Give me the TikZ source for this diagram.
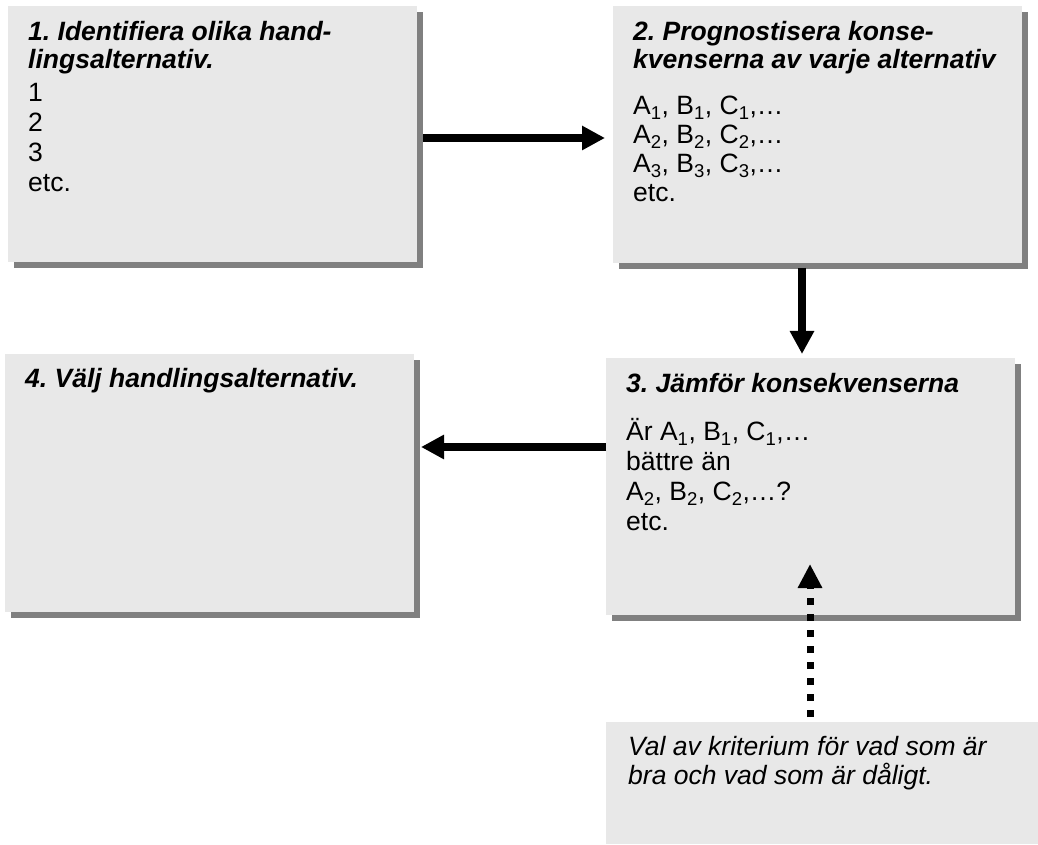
\documentclass[tikz,border=0pt]{standalone}
\usepackage{fontspec}
\setmainfont{Liberation Sans}
\usepackage{xcolor}
\usepackage{tikz}
\usetikzlibrary{arrows.meta,shadows,calc}

\definecolor{panelgray}{RGB}{232,232,232}
\definecolor{shadowgray}{RGB}{128,128,128}

\newcommand{\textlines}[1]{\begin{tabular}[t]{@{}l@{}}#1\end{tabular}}

\tikzset{
  panel/.style={fill=panelgray, inner sep=0pt, outer sep=0pt, anchor=north west,
    minimum width=409, minimum height=257},
  shadowed/.style={drop shadow={shadow xshift=6pt, shadow yshift=-6pt,
    fill=shadowgray, opacity=1}},
  body/.style={anchor=base west, inner sep=0pt, font=\fontsize{26.5}{30}\selectfont},
  head/.style={anchor=base west, inner sep=0pt,
    font=\fontsize{26.5}{27}\selectfont\bfseries\itshape},
  flow/.style={-{Triangle[length=23pt,width=23pt]}, line width=8pt},
  hint/.style={-{Triangle[length=24pt,width=23pt]}, line width=7pt,
    dash pattern=on 7pt off 9pt}
}

\begin{document}
\frenchspacing
\begin{tikzpicture}[x=1pt,y=1pt]
    \useasboundingbox (0,0) rectangle (1038,844);

    % Boxes
    \node[panel, shadowed, minimum height=256] (box1) at (8,838) {};
    \node[panel, shadowed] (box2) at (613,838) {};
    \node[panel, shadowed] (box3) at (606,486) {};
    \node[panel, shadowed, minimum height=258] (box4) at (5,490) {};
    \node[panel, minimum width=432, minimum height=122] (box5) at (606,122) {};

    % Texts
    \node[head] (head1) at ([shift={(20,-35)}]box1.north west)
        {\textlines{1. Identifiera olika hand-\\lingsalternativ.}};
    \node[body] (list1) at ([shift={(20,-96)}]box1.north west)
        {\textlines{1\\2\\3\\etc.}};

    \node[head] (head2) at ([shift={(20,-35)}]box2.north west)
        {\textlines{2. Prognostisera konse-\\kvenserna av varje alternativ}};
    \node[body, font=\fontsize{26.5}{29}\selectfont] (list2) at ([shift={(20,-109)}]box2.north west)
        {\textlines{A\textsubscript{1}, B\textsubscript{1}, C\textsubscript{1},…\\
          A\textsubscript{2}, B\textsubscript{2}, C\textsubscript{2},…\\
          A\textsubscript{3}, B\textsubscript{3}, C\textsubscript{3},…\\etc.}};

    \node[head] (head3) at ([shift={(20,-35)}]box3.north west)
        {3. Jämför konsekvenserna};
    \node[body] (list3) at ([shift={(20,-83)}]box3.north west)
        {\textlines{Är A\textsubscript{1}, B\textsubscript{1}, C\textsubscript{1},…\\
          bättre än\\
          A\textsubscript{2}, B\textsubscript{2}, C\textsubscript{2},…?\\etc.}};

    \node[head] (head4) at ([shift={(20,-34)}]box4.north west)
        {4. Välj handlingsalternativ.};

    \node[body, font=\fontsize{26.5}{28}\selectfont\itshape] (note5) at ([shift={(22,-33)}]box5.north west)
        {\textlines{Val av kriterium för vad som är\\bra och vad som är dåligt.}};

    % Arrows
    \draw[flow, shorten <=6pt, shorten >=8pt]
        ([yshift=-4pt]box1.east) -- ([yshift=-4pt]box1.east -| box2.west);
    \draw[flow, shorten <=5pt, shorten >=4pt]
        ([xshift=-15.5pt]box2.south) -- ([xshift=-15.5pt]box2.south |- box3.north);
    \draw[flow, shorten >=7pt]
        ([yshift=39.5pt]box3.west) -- ([yshift=39.5pt]box3.west -| box4.east);

    % Criterion
    \draw[hint, shorten <=5pt]
        ([xshift=-12pt]box5.north) -- ($(box3.south -| box5.north)+(-12,51)$);
\end{tikzpicture}
\end{document}
